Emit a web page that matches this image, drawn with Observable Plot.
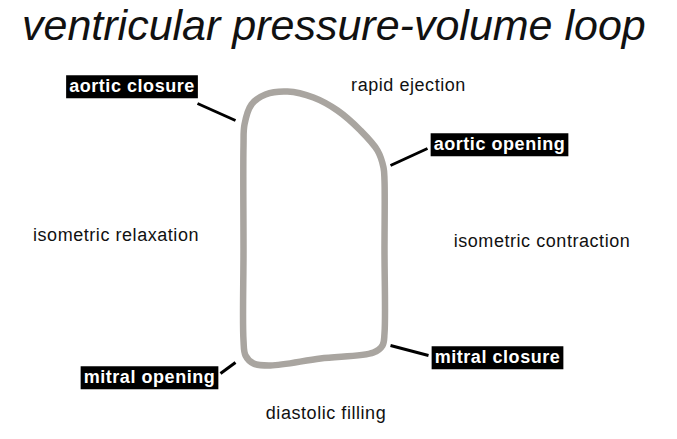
<!DOCTYPE html>
<html>
<head>
<meta charset="utf-8">
<script src="https://cdn.jsdelivr.net/npm/d3@7"></script>
<script src="https://cdn.jsdelivr.net/npm/@observablehq/plot@0.6"></script>
<style>
  html, body { margin: 0; padding: 0; background: #fff; }
  #title { height: 60px; font: italic 43px "Liberation Sans", Arial, sans-serif; line-height: 50px; padding-left: 22px; color: #111; white-space: nowrap; }
  #chart svg { display: block; }
  #chart svg text { letter-spacing: 0.55px; }
</style>
</head>
<body>
<div id="title">ventricular pressure-volume loop</div>
<div id="chart"></div>
<script>
// Loop outline (arbitrary schematic units: volume ~ horizontal, pressure ~ vertical)
const loopVolume   = [243, 245, 253, 270, 320, 373, 382, 384, 384, 384, 383, 377, 360, 337, 313, 287, 265, 251, 244, 243, 243];
const loopPressure = [ 99,  84,  76,  74,  81,  87,  94, 106, 189, 259, 272, 289, 309, 329, 342, 348, 345, 335, 315, 294, 189];

// Valve events (boxed labels)
const eventNames    = ["aortic closure", "aortic opening", "mitral opening", "mitral closure"];
const eventVolume   = [131.5, 499, 149, 497];
const eventPressure = [353, 295, 62, 82];

// Leader lines from labels to the loop
const leaderVolume1   = [197, 427, 220, 428];
const leaderPressure1 = [336, 291, 66, 84];
const leaderVolume2   = [235, 390, 235, 390];
const leaderPressure2 = [319, 274, 77, 94];

// Phase labels
const phaseNames    = ["rapid ejection", "isometric relaxation", "isometric contraction", "diastolic filling"];
const phaseVolume   = [408, 115.5, 541.5, 325.5];
const phasePressure = [354, 204, 198, 26];

const loop = loopVolume.map((v, i) => ({v, p: loopPressure[i]}));
const events = eventNames.map((name, i) => ({name, v: eventVolume[i], p: eventPressure[i]}));
const leaders = leaderVolume1.map((v1, i) => ({v1, p1: leaderPressure1[i], v2: leaderVolume2[i], p2: leaderPressure2[i]}));
const phases = phaseNames.map((name, i) => ({name, v: phaseVolume[i], p: phasePressure[i]}));

const svg = Plot.plot({
  width: 677,
  height: 379,
  margin: 0,
  x: {domain: [0, 677], axis: null},
  y: {domain: [0, 379], axis: null},
  style: {background: "#fff", fontFamily: "'Liberation Sans', Arial, sans-serif"},
  marks: [
    Plot.line(loop, {x: "v", y: "p", curve: "catmull-rom-closed", stroke: "#a9a5a0", strokeWidth: 6.5, strokeLinejoin: "round"}),
    Plot.link(leaders, {x1: "v1", y1: "p1", x2: "v2", y2: "p2", stroke: "#000", strokeWidth: 3}),
    Plot.text(phases, {x: "v", y: "p", text: "name", fill: "#111", fontSize: 18, textAnchor: "middle"}),
    Plot.text(events, {x: "v", y: "p", text: "name", fill: "#fff", fontSize: 18, fontWeight: "bold", textAnchor: "middle"})
  ]
});
document.getElementById("chart").append(svg);

// Black background boxes behind the valve-event labels (last text mark)
const textGroups = svg.querySelectorAll('g[aria-label="text"]');
const boxed = textGroups[textGroups.length - 1];
boxed.querySelectorAll("text").forEach(t => {
  const b = t.getBBox();
  const r = document.createElementNS("http://www.w3.org/2000/svg", "rect");
  r.setAttribute("x", b.x - 3);
  r.setAttribute("y", b.y - 1);
  r.setAttribute("width", b.width + 6);
  r.setAttribute("height", b.height + 3);
  r.setAttribute("fill", "#000");
  const tr = t.getAttribute("transform");
  if (tr) r.setAttribute("transform", tr);
  t.parentNode.insertBefore(r, t);
});
</script>
</body>
</html>
